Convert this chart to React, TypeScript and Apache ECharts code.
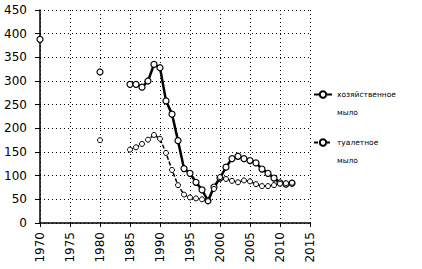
import React, { useEffect, useRef } from "react";
import * as echarts from "echarts";

const householdName = "хозяйственное мыло";
const toiletName = "туалетное мыло";

const householdYears = [1970, 1975, 1980, 1982, 1985, 1986, 1987, 1988, 1989, 1990, 1991, 1992, 1993, 1994, 1995, 1996, 1997, 1998, 1999, 2000, 2001, 2002, 2003, 2004, 2005, 2006, 2007, 2008, 2009, 2010, 2011, 2012];
const householdValues: (number | string)[] = [388, "-", 319, "-", 293, 293, 287, 300, 335, 328, 258, 230, 174, 115, 105, 86, 70, 47, 76, 95, 118, 136, 141, 136, 132, 127, 114, 105, 95, 85, 82, 84];

const toiletYears = [1980, 1982, 1985, 1986, 1987, 1988, 1989, 1990, 1991, 1992, 1993, 1994, 1995, 1996, 1997, 1998, 1999, 2000, 2001, 2002, 2003, 2004, 2005, 2006, 2007, 2008, 2009, 2010, 2011, 2012];
const toiletValues: (number | string)[] = [175, "-", 155, 160, 167, 176, 186, 178, 148, 112, 80, 60, 54, 52, 50, 46, 72, 97, 93, 89, 86, 90, 88, 82, 78, 78, 80, 83, 84, 85];

const FONT = "DejaVu Sans";

export default function App() {
  const ref = useRef<HTMLDivElement>(null);
  useEffect(() => {
    if (!ref.current) return;
    const chart = echarts.init(ref.current, undefined, { renderer: "svg" });
    const legendText = {
      fontFamily: FONT,
      fontSize: 7.5,
      color: "#000",
      rich: {
        a: { fontFamily: FONT, fontSize: 7.5, color: "#000", lineHeight: 36 },
        b: { fontFamily: FONT, fontSize: 7.5, color: "#000", lineHeight: 1 },
      },
    };
    const fmt = (n: string) => {
      const parts = n.split(" ");
      return "{a|" + parts[0] + "}\n{b|" + parts[1] + "}";
    };
    const legendBase = {
      orient: "vertical",
      padding: 0,
      itemWidth: 18,
      itemHeight: 8,
      itemGap: 4,
      formatter: fmt,
      textStyle: legendText,
    };
    chart.setOption({
      animation: false,
      backgroundColor: "#fff",
      grid: { left: 40, right: 112, top: 10, bottom: 46 },
      legend: [
        { ...legendBase, data: [householdName], left: 313, top: 90 },
        { ...legendBase, data: [toiletName], left: 313, top: 138 },
      ],
      xAxis: {
        type: "value",
        min: 1970,
        max: 2015,
        interval: 5,
        axisLine: { show: true, lineStyle: { color: "#000", width: 1.5 } },
        axisTick: { show: true, length: 4, lineStyle: { color: "#000" } },
        axisLabel: {
          rotate: 90,
          margin: 9,
          fontFamily: FONT,
          fontSize: 12,
          color: "#000",
          formatter: (v: number) => String(v),
        },
        splitLine: { show: true, lineStyle: { color: "#000", type: [1, 3], width: 1 } },
      },
      yAxis: {
        type: "value",
        min: 0,
        max: 450,
        interval: 50,
        axisLine: { show: true, lineStyle: { color: "#000", width: 1.5 } },
        axisTick: { show: true, length: 5, lineStyle: { color: "#000" } },
        axisLabel: { margin: 13, fontFamily: FONT, fontSize: 12, color: "#000" },
        splitLine: { show: true, lineStyle: { color: "#000", type: [1, 3], width: 1 } },
      },
      series: [
        {
          name: householdName,
          type: "line",
          data: householdYears.map((y, i) => [y, householdValues[i]]),
          connectNulls: false,
          symbol: "circle",
          symbolSize: 6,
          itemStyle: { color: "#fff", borderColor: "#000", borderWidth: 1.2 },
          lineStyle: { color: "#000", width: 2.5 },
        },
        {
          name: toiletName,
          type: "line",
          data: toiletYears.map((y, i) => [y, toiletValues[i]]),
          connectNulls: false,
          symbol: "circle",
          symbolSize: 5,
          itemStyle: { color: "#fff", borderColor: "#000", borderWidth: 1 },
          lineStyle: { color: "#000", width: 1.5, type: [4, 2] },
        },
      ],
    });
    return () => chart.dispose();
  }, []);
  return <div ref={ref} style={{ width: 422, height: 269, position: "absolute", left: 0, top: 0 }} />;
}
